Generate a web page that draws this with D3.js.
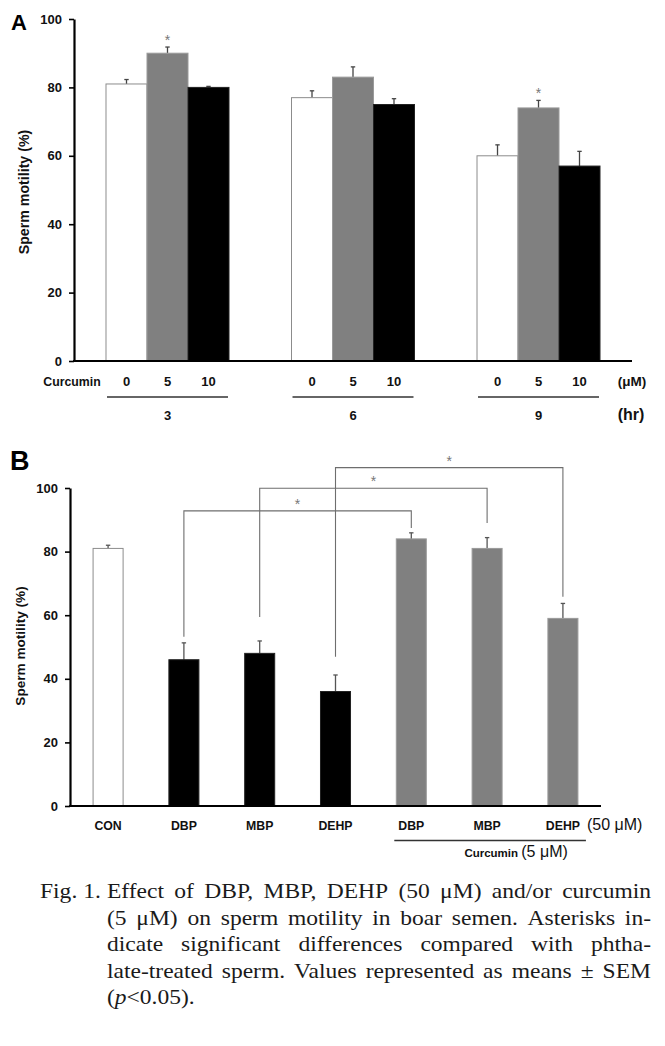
<!DOCTYPE html>
<html><head><meta charset="utf-8">
<script src="https://cdn.jsdelivr.net/npm/d3@7"></script>
<style>body{margin:0;background:#fff} svg{display:block}</style>
</head><body>
<svg id="chart" width="665" height="1046"></svg>
<script>
// ---------- Panel A data ----------
const hours = ["3", "6", "9"];
const doses = ["0", "5", "10"];
const motility0 = [81, 77, 60];
const motility5 = [90, 83, 74];
const motility10 = [80, 75, 57];
const sem0 = [1.3, 2.0, 3.2];
const sem5 = [1.8, 3.0, 2.2];
const sem10 = [0.3, 1.7, 4.3];
const sig5 = [true, false, true];
const yTicks = [0, 20, 40, 60, 80, 100];

// ---------- Panel B data ----------
const categoriesB = ["CON", "DBP", "MBP", "DEHP", "DBP", "MBP", "DEHP"];
const treatmentB = ["control", "phthalate", "phthalate", "phthalate", "curcumin", "curcumin", "curcumin"];
const motilityB = [81, 46, 48, 36, 84, 81, 59];
const semB = [1.0, 5.3, 3.9, 5.2, 1.9, 3.4, 4.7];
const bracketFrom = [1, 2, 3];
const bracketTo = [4, 5, 6];
const bracketLevel = [92.8, 99.9, 106.4];
const bracketLeftEnd = [53.2, 59.4, 46.9];
const bracketRightEnd = [87.4, 89.0, 65.8];

const captionLines = [
  "Effect of DBP, MBP, DEHP (50 μM) and/or curcumin",
  "(5 μM) on sperm motility in boar semen. Asterisks in-",
  "dicate significant differences compared with phtha-",
  "late-treated sperm. Values represented as means ± SEM"
];

const svg = d3.select("#chart");
const SANS = "'Liberation Sans', Arial, Helvetica, sans-serif";
const SERIF = "'Liberation Serif', 'Times New Roman', serif";
const fillOf = {white: "#ffffff", gray: "#808080", black: "#000000"};
const strokeOf = {white: "#8c8c8c", gray: "#9a9a9a", black: "#222222"};

// ================= PANEL A =================
const gA = svg.append("g");
const xA = d3.scaleBand().domain(hours).range([74, 632]).paddingInner(0.337).paddingOuter(0.1725);
const xDose = d3.scaleBand().domain(doses).range([0, xA.bandwidth()]);
const yA = d3.scaleLinear().domain([0, 100]).range([361, 19]);

const doseColor = {"0": "white", "5": "gray", "10": "black"};
const seriesVals = {"0": motility0, "5": motility5, "10": motility10};
const seriesSem = {"0": sem0, "5": sem5, "10": sem10};
const barsA = [];
hours.forEach((h, i) => doses.forEach(d => barsA.push({h, d, v: seriesVals[d][i], e: seriesSem[d][i], sig: d === "5" && sig5[i]})));

gA.selectAll("line.errA").data(barsA).join("line")
  .attr("x1", b => xA(b.h) + xDose(b.d) + xDose.bandwidth() / 2)
  .attr("x2", b => xA(b.h) + xDose(b.d) + xDose.bandwidth() / 2)
  .attr("y1", b => yA(b.v)).attr("y2", b => yA(b.v + b.e))
  .attr("stroke", "#444").attr("stroke-width", 1.3);
gA.selectAll("line.capA").data(barsA).join("line")
  .attr("x1", b => xA(b.h) + xDose(b.d) + xDose.bandwidth() / 2 - 2.2)
  .attr("x2", b => xA(b.h) + xDose(b.d) + xDose.bandwidth() / 2 + 2.2)
  .attr("y1", b => yA(b.v + b.e)).attr("y2", b => yA(b.v + b.e))
  .attr("stroke", "#444").attr("stroke-width", 1.3);
gA.selectAll("rect.barA").data(barsA).join("rect")
  .attr("x", b => xA(b.h) + xDose(b.d)).attr("width", xDose.bandwidth())
  .attr("y", b => yA(b.v)).attr("height", b => yA(0) - yA(b.v))
  .attr("fill", b => fillOf[doseColor[b.d]]).attr("stroke", b => strokeOf[doseColor[b.d]]).attr("stroke-width", 1);
gA.selectAll("text.starA").data(barsA.filter(b => b.sig)).join("text")
  .attr("x", b => xA(b.h) + xDose(b.d) + xDose.bandwidth() / 2)
  .attr("y", b => yA(b.v + b.e) - 2)
  .attr("text-anchor", "middle").attr("font-family", SANS).attr("font-size", 14).attr("fill", "#777")
  .text("*");

const axA = gA.append("g").attr("transform", "translate(74,0)")
  .call(d3.axisLeft(yA).tickValues(yTicks).tickSize(5).tickSizeOuter(0).tickPadding(7));
axA.select(".domain").attr("stroke", "#000").attr("stroke-width", 2.2);
axA.selectAll(".tick line").attr("stroke", "#000").attr("stroke-width", 1.6);
axA.selectAll(".tick text").attr("font-family", SANS).attr("font-weight", "bold").attr("font-size", 13).attr("fill", "#111");
gA.append("line").attr("x1", 73).attr("x2", 632).attr("y1", yA(0)).attr("y2", yA(0)).attr("stroke", "#000").attr("stroke-width", 2.2);

gA.append("text").attr("transform", "translate(29,192) rotate(-90)").attr("text-anchor", "middle")
  .attr("font-family", SANS).attr("font-weight", "bold").attr("font-size", 14.2).attr("fill", "#111").text("Sperm motility (%)");
gA.append("text").attr("x", 11).attr("y", 30).attr("font-family", SANS).attr("font-weight", "bold").attr("font-size", 22).text("A");

gA.append("text").attr("x", 72).attr("y", 386).attr("text-anchor", "middle")
  .attr("font-family", SANS).attr("font-weight", "bold").attr("font-size", 12.3).attr("fill", "#111").text("Curcumin");
gA.selectAll("text.doseLab").data(barsA).join("text")
  .attr("x", b => xA(b.h) + xDose(b.d) + xDose.bandwidth() / 2).attr("y", 386).attr("text-anchor", "middle")
  .attr("font-family", SANS).attr("font-weight", "bold").attr("font-size", 13).attr("fill", "#111").text(b => b.d);
gA.append("text").attr("x", 632).attr("y", 386).attr("text-anchor", "middle")
  .attr("font-family", SANS).attr("font-weight", "bold").attr("font-size", 13.5).attr("fill", "#111").text("(μM)");
gA.selectAll("line.hrLine").data(hours).join("line")
  .attr("x1", h => xA(h) + 1).attr("x2", h => xA(h) + xA.bandwidth() - 1).attr("y1", 397).attr("y2", 397)
  .attr("stroke", "#333").attr("stroke-width", 1.5);
gA.selectAll("text.hrLab").data(hours).join("text")
  .attr("x", h => xA(h) + xA.bandwidth() / 2).attr("y", 420).attr("text-anchor", "middle")
  .attr("font-family", SANS).attr("font-weight", "bold").attr("font-size", 13).attr("fill", "#111").text(h => h);
gA.append("text").attr("x", 631).attr("y", 420).attr("text-anchor", "middle")
  .attr("font-family", SANS).attr("font-weight", "bold").attr("font-size", 16).attr("fill", "#111").text("(hr)");

// ================= PANEL B =================
const gB = svg.append("g");
const idxB = d3.range(categoriesB.length);
const xB = d3.scaleBand().domain(idxB).range([70, 601]).paddingInner(0.604).paddingOuter(0.3045);
const yB = d3.scaleLinear().domain([0, 100]).range([806, 488]);
const treatColor = {control: "white", phthalate: "black", curcumin: "gray"};
const cx = i => xB(i) + xB.bandwidth() / 2;

// brackets
bracketFrom.forEach((f, k) => {
  const t = bracketTo[k];
  const path = d3.path();
  path.moveTo(cx(f), yB(bracketLeftEnd[k]));
  path.lineTo(cx(f), yB(bracketLevel[k]));
  path.lineTo(cx(t), yB(bracketLevel[k]));
  path.lineTo(cx(t), yB(bracketRightEnd[k]));
  gB.append("path").attr("d", path.toString()).attr("fill", "none").attr("stroke", "#6e6e6e").attr("stroke-width", 1.1);
  gB.append("text").attr("x", (cx(f) + cx(t)) / 2).attr("y", yB(bracketLevel[k]) - 2)
    .attr("text-anchor", "middle").attr("font-family", SANS).attr("font-size", 14).attr("fill", "#777").text("*");
});

gB.selectAll("line.errB").data(idxB).join("line")
  .attr("x1", i => cx(i)).attr("x2", i => cx(i))
  .attr("y1", i => yB(motilityB[i])).attr("y2", i => yB(motilityB[i] + semB[i]))
  .attr("stroke", "#555").attr("stroke-width", 1.3);
gB.selectAll("line.capB").data(idxB).join("line")
  .attr("x1", i => cx(i) - 2.2).attr("x2", i => cx(i) + 2.2)
  .attr("y1", i => yB(motilityB[i] + semB[i])).attr("y2", i => yB(motilityB[i] + semB[i]))
  .attr("stroke", "#555").attr("stroke-width", 1.3);
gB.selectAll("rect.barB").data(idxB).join("rect")
  .attr("x", i => xB(i)).attr("width", xB.bandwidth())
  .attr("y", i => yB(motilityB[i])).attr("height", i => yB(0) - yB(motilityB[i]))
  .attr("fill", i => fillOf[treatColor[treatmentB[i]]]).attr("stroke", i => strokeOf[treatColor[treatmentB[i]]]).attr("stroke-width", 1);

const axB = gB.append("g").attr("transform", "translate(70,0)")
  .call(d3.axisLeft(yB).tickValues(yTicks).tickSize(5).tickSizeOuter(0).tickPadding(7));
axB.select(".domain").attr("stroke", "#000").attr("stroke-width", 2.2);
axB.selectAll(".tick line").attr("stroke", "#000").attr("stroke-width", 1.6);
axB.selectAll(".tick text").attr("font-family", SANS).attr("font-weight", "bold").attr("font-size", 13).attr("fill", "#111");
gB.append("line").attr("x1", 69).attr("x2", 601).attr("y1", yB(0)).attr("y2", yB(0)).attr("stroke", "#000").attr("stroke-width", 2.2);

gB.append("text").attr("transform", "translate(25,646) rotate(-90)").attr("text-anchor", "middle")
  .attr("font-family", SANS).attr("font-weight", "bold").attr("font-size", 13.6).attr("fill", "#111").text("Sperm motility (%)");
gB.append("text").attr("x", 10).attr("y", 470).attr("font-family", SANS).attr("font-weight", "bold").attr("font-size", 27).text("B");

gB.selectAll("text.catB").data(idxB).join("text")
  .attr("x", i => cx(i)).attr("y", 830).attr("text-anchor", "middle")
  .attr("font-family", SANS).attr("font-weight", "bold").attr("font-size", 12.3).attr("fill", "#111").text(i => categoriesB[i]);
gB.append("text").attr("x", xB(6) + xB.bandwidth() + 9).attr("y", 830)
  .attr("font-family", SANS).attr("font-size", 16).attr("fill", "#111").text("(50 μM)");
gB.append("line").attr("x1", xB(4) - 2).attr("x2", xB(6) + xB.bandwidth() + 8).attr("y1", 840.5).attr("y2", 840.5)
  .attr("stroke", "#333").attr("stroke-width", 1.5);
const curT = gB.append("text").attr("x", (xB(4) + xB(6) + xB.bandwidth()) / 2 + 29).attr("y", 857).attr("text-anchor", "middle")
  .attr("font-family", SANS).attr("fill", "#111");
curT.append("tspan").attr("font-weight", "bold").attr("font-size", 11.5).text("Curcumin ");
curT.append("tspan").attr("font-size", 16).text("(5 μM)");

// ================= CAPTION =================
const gC = svg.append("g").attr("font-family", SERIF).attr("font-size", 21).attr("fill", "#1a1a1a");
const capLeft = 107, capRight = 651, capBase = 898, capStep = 26.5, stretch = 1.12;
const fig = gC.append("text").attr("x", 40).attr("y", capBase).text("Fig. 1.");
fig.attr("textLength", fig.node().getComputedTextLength() * stretch).attr("lengthAdjust", "spacingAndGlyphs");
captionLines.forEach((line, li) => {
  const words = line.split(" ");
  const y = capBase + li * capStep;
  const nodes = words.map(w => gC.append("text").attr("y", y).text(w));
  const widths = nodes.map(n => n.node().getComputedTextLength() * stretch);
  nodes.forEach((n, k) => n.attr("textLength", widths[k]).attr("lengthAdjust", "spacingAndGlyphs"));
  const total = d3.sum(widths);
  const gap = (capRight - capLeft - total) / (words.length - 1);
  let x = capLeft;
  nodes.forEach((n, k) => { n.attr("x", x); x += widths[k] + gap; });
});
const last = gC.append("text").attr("x", capLeft).attr("y", capBase + 4 * capStep);
last.append("tspan").text("(");
last.append("tspan").attr("font-style", "italic").text("p");
last.append("tspan").text("<0.05).");
last.attr("textLength", last.node().getComputedTextLength() * stretch).attr("lengthAdjust", "spacingAndGlyphs");
</script>
</body></html>
